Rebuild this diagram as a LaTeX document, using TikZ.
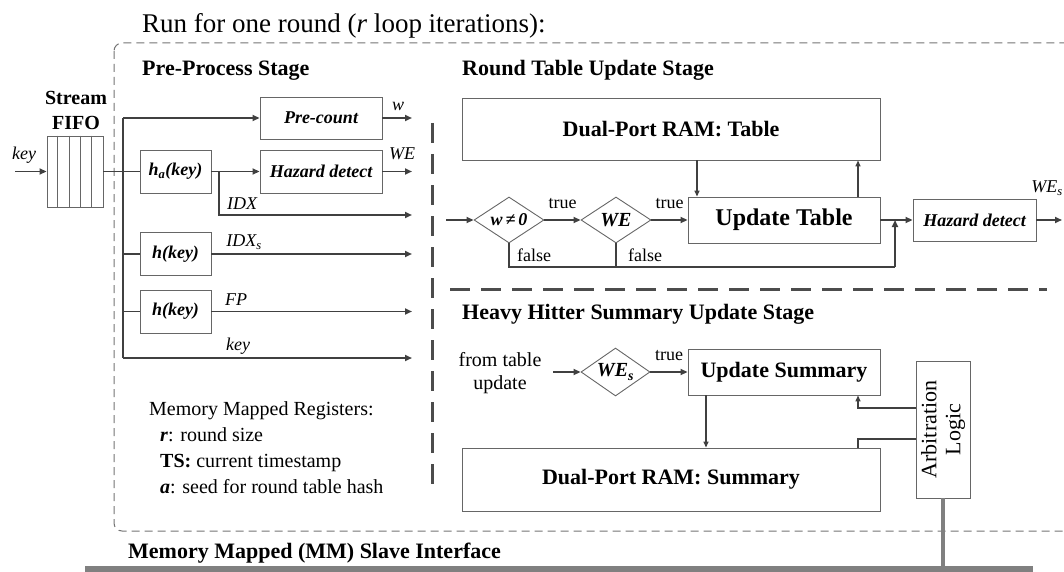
\documentclass[tikz,border=0pt]{standalone}
\usepackage{fontspec}
\setmainfont{Liberation Serif}
\usetikzlibrary{arrows.meta,shapes.geometric}

\begin{document}
\begin{tikzpicture}[
      x=1pt, y=1pt,
      every node/.style={font=\fontsize{18}{20}\selectfont, inner sep=0pt},
      box/.style={draw=black!60, line width=0.9pt, fill=white, align=center},
      dia/.style={diamond, draw=black!60, line width=0.9pt, aspect=1.5, inner sep=0pt},
      sig/.style={draw=black!75, line width=1.8pt, -{Triangle[length=7pt,width=6pt]}},
      wire/.style={draw=black!75, line width=1.8pt},
      thinsig/.style={draw=black!75, line width=1.4pt, -{Triangle[length=6pt,width=5pt]}},
      thinwire/.style={draw=black!75, line width=1.4pt},
      sep/.style={draw=black!70, line width=3pt, dash pattern=on 20pt off 11pt},
      big/.style={font=\fontsize{22}{26}\selectfont\bfseries},
      hw/.style={font=\fontsize{18}{20}\selectfont\bfseries\itshape},
      sm/.style={font=\fontsize{18}{20}\selectfont\itshape},
      rm/.style={font=\fontsize{18}{20}\selectfont}
    ]
    \useasboundingbox (0,0) rectangle (1064,-572);

    % Outer round frame (runs off the right edge)
    \draw[draw=black!55, line width=1pt, dash pattern=on 8pt off 5pt, rounded corners=8pt]
      (114,-43) rectangle (1100,-531);

    % Titles
    \node[anchor=base west, font=\fontsize{27}{31}\selectfont] (title) at (142,-33)
      {Run for one round (\textit{r} loop iterations):};
    \node[big, anchor=base west] (ppstage) at (142,-76) {Pre-Process Stage};
    \node[big, anchor=base west] (rtstage) at (462,-76) {Round Table Update Stage};
    \node[big, anchor=base west] (hhstage) at (462,-319) {Heavy Hitter Summary Update Stage};
    \node[big, anchor=base west] (mmlabel) at (128,-558) {Memory Mapped (MM) Slave Interface};

    % Stream FIFO
    \node[align=center, font=\fontsize{20}{25}\selectfont\bfseries] (fifolbl) at (76,-110) {Stream\\FIFO};
    \node[box, minimum width=56pt, minimum height=71pt] (fifo) at (75,-171.5) {};
    \foreach \i in {1,...,4}
      \draw[draw=black!60, line width=0.9pt] ([xshift=11.2*\i pt]fifo.north west) -- ([xshift=11.2*\i pt]fifo.south west);
    \coordinate (keyin) at (15,-171.5);
    \draw[sig] (keyin) -- (fifo.west);
    \node[sm] (keylbl) at (24,-155) {key};

    % Pre-process blocks
    \node[box, hw, minimum width=122pt, minimum height=42pt] (precount) at (321,-118) {Pre-count};
    \node[box, hw, minimum width=71pt, minimum height=43pt] (hashA) at (175.5,-171.5) {h\textsubscript{a}(key)};
    \node[box, hw, minimum width=122pt, minimum height=43pt] (hazA) at (321,-171.5) {Hazard detect};
    \node[box, hw, minimum width=71pt, minimum height=43pt] (hashS) at (175.5,-254) {h(key)};
    \node[box, hw, minimum width=71pt, minimum height=43pt] (hashF) at (175.5,-311.5) {h(key)};

    % Key bus
    \coordinate (busT) at (123,-118);
    \coordinate (busB) at (123,-358);
    \coordinate (outX) at (412,0);
    \draw[wire] (busT) -- (busB);
    \draw[sig] (busT) -- (precount.west);
    \draw[wire] (fifo.east) -- (hashA.west);
    \draw[wire] (busT |- hashS.west) -- (hashS.west);
    \draw[wire] (busT |- hashF.west) -- (hashF.west);
    \draw[sig] (hashA.east) -- (hazA.west);

    % Outputs to next stage
    \draw[sig] (precount.east) -- (precount.east -| outX);
    \node[sm] (wlbl) at (398,-106) {w};
    \draw[sig] (hazA.east) -- (hazA.east -| outX);
    \node[sm] (welbl) at (402,-154) {WE};
    \coordinate (idxtap) at (219,-171.5);
    \coordinate (idxrow) at (219,-215);
    \draw[sig] (idxtap) -- (idxrow) -- (idxrow -| outX);
    \node[sm] (idxlbl) at (242,-204) {IDX};
    \draw[sig] (hashS.east) -- (hashS.east -| outX);
    \node[sm] (idxslbl) at (244,-242) {IDX\textsubscript{s}};
    \draw[sig] (hashF.east) -- (hashF.east -| outX);
    \node[sm] (fplbl) at (236,-300) {FP};
    \draw[sig] (busB) -- (busB -| outX);
    \node[sm] (keyolbl) at (238,-346) {key};

    % Memory mapped registers
    \node[anchor=north west, align=left, font=\fontsize{20}{26}\selectfont] (regs) at (149,-401)
      {Memory Mapped Registers:\\
       \hspace*{11pt}\textbf{\textit{r}}: round size\\
       \hspace*{11pt}\textbf{TS:} current timestamp\\
       \hspace*{11pt}\textbf{\textit{a}}: seed for round table hash};

    % Stage separators
    \draw[sep] (432,-123) -- (432,-490);
    \draw[sep] (450,-289) -- (1047,-289);

    % Round table update stage
    \node[box, big, minimum width=418pt, minimum height=62pt] (ramT) at (671,-129) {Dual-Port RAM: Table};
    \node[box, font=\fontsize{24}{28}\selectfont\bfseries, minimum width=192pt, minimum height=46pt] (updT) at (784,-220) {Update Table};
    \node[dia, hw, minimum width=70pt, minimum height=46pt] (dW) at (509,-220) {w\,≠\,0};
    \node[dia, font=\fontsize{20}{24}\selectfont\bfseries\itshape, minimum width=70pt, minimum height=46pt] (dWE) at (616,-220) {WE};
    \node[box, hw, minimum width=123pt, minimum height=42pt] (hazB) at (974.5,-220) {Hazard detect};

    \coordinate (rtin) at (446,-220);
    \coordinate (rtout) at (1062,-220);
    \draw[sig] (rtin) -- (dW.west);
    \draw[sig] (dW.east) -- (dWE.west) node[rm, midway, above=10pt] {true};
    \draw[sig] (dWE.east) -- (updT.west) node[rm, midway, above=10pt] {true};
    \draw[sig] (updT.east) -- (hazB.west);
    \draw[sig] (hazB.east) -- (rtout);
    \node[sm, anchor=east] (weslbl) at (1063,-188) {WE\textsubscript{s}};

    % false path
    \coordinate (fbus) at (895,-267);
    \draw[wire] (dW.south) |- (fbus);
    \draw[wire] (dWE.south) -- (dWE.south |- fbus);
    \draw[sig] (fbus) -- (fbus |- updT.east);
    \node[rm] (f1lbl) at (534,-255) {false};
    \node[rm] (f2lbl) at (645,-255) {false};

    % Table read / write
    \coordinate (rdT) at (697,0);
    \coordinate (wrT) at (858,0);
    \draw[thinsig] (rdT |- ramT.south) -- (rdT |- updT.north);
    \draw[thinsig] (wrT |- updT.north) -- (wrT |- ramT.south);

    % Heavy hitter summary update stage
    \node[align=center, font=\fontsize{20}{23}\selectfont] (fromtbl) at (500,-373) {from table\\update};
    \node[dia, font=\fontsize{20}{24}\selectfont\bfseries\itshape, minimum width=69pt, minimum height=48pt] (dWEs) at (615.5,-372) {WE\textsubscript{s}};
    \node[box, big, minimum width=192pt, minimum height=46pt] (updS) at (784,-372) {Update Summary};
    \node[box, big, minimum width=418pt, minimum height=63pt] (ramS) at (671,-479.5) {Dual-Port RAM: Summary};
    \node[box, rotate=90, align=center, font=\fontsize{22}{24}\selectfont, minimum width=137pt, minimum height=54pt] (arb) at (943,-429.5) {Arbitration\\Logic};

    \coordinate (fromin) at (553,-372);
    \draw[sig] (fromin) -- (dWEs.west);
    \draw[sig] (dWEs.east) -- (updS.west) node[rm, midway, above=10pt] {true};
    \coordinate (rdS) at (706,0);
    \draw[thinsig] (rdS |- updS.south) -- (rdS |- ramS.north);

    % Arbitration links
    \coordinate (arbA) at (858,-408);
    \coordinate (arbB) at (858,-439);
    \draw[thinsig] (arbA -| arb.north) -- (arbA) -- (arbA |- updS.south);
    \draw[thinwire] (arbB -| arb.north) -- (arbB) -- (arbB |- ramS.north);

    % MM slave bus
    \coordinate (busL) at (85,-569);
    \coordinate (busR) at (1033,-569);
    \draw[draw=black!50, line width=6pt] (busL) -- (busR);
    \draw[draw=black!50, line width=4pt] (arb.west) -- (arb.west |- busL);
  \end{tikzpicture}
\end{document}
